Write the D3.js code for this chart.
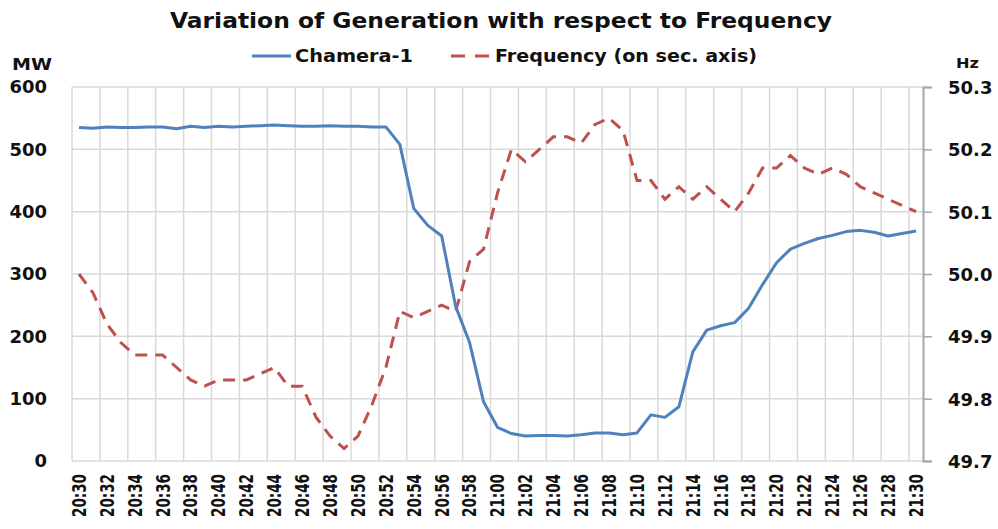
<!DOCTYPE html>
<html>
<head>
<meta charset="utf-8">
<script src="https://cdn.jsdelivr.net/npm/d3@7"></script>
<style>
  body { margin: 0; background: #fff; }
  svg { display: block; font-family: "DejaVu Sans", Verdana, sans-serif; font-weight: bold; }
</style>
</head>
<body>
<svg width="998" height="529"></svg>
<script>
// minutes on the category axis
var times = ["20:30","20:31","20:32","20:33","20:34","20:35","20:36","20:37","20:38","20:39",
  "20:40","20:41","20:42","20:43","20:44","20:45","20:46","20:47","20:48","20:49",
  "20:50","20:51","20:52","20:53","20:54","20:55","20:56","20:57","20:58","20:59",
  "21:00","21:01","21:02","21:03","21:04","21:05","21:06","21:07","21:08","21:09",
  "21:10","21:11","21:12","21:13","21:14","21:15","21:16","21:17","21:18","21:19",
  "21:20","21:21","21:22","21:23","21:24","21:25","21:26","21:27","21:28","21:29","21:30"];
// Chamera-1 generation, MW
var chamera = [535,534,536,535,535,536,536,533,537,535,
  537,536,537,538,539,538,537,537,538,537,
  537,536,536,508,405,378,361,248,190,95,
  54,44,40,41,41,40,42,45,45,42,
  45,74,70,87,175,210,217,222,245,283,
  318,340,349,357,362,368,370,367,361,365,369];
// grid frequency, Hz (secondary axis)
var freq = [50.00,49.97,49.92,49.89,49.87,49.87,49.87,49.85,49.83,49.82,
  49.83,49.83,49.83,49.84,49.85,49.82,49.82,49.77,49.74,49.72,
  49.74,49.79,49.85,49.94,49.93,49.94,49.95,49.94,50.02,50.04,
  50.13,50.20,50.18,50.20,50.22,50.22,50.21,50.24,50.25,50.23,
  50.15,50.15,50.12,50.14,50.12,50.14,50.12,50.10,50.13,50.17,
  50.17,50.19,50.17,50.16,50.17,50.16,50.14,50.13,50.12,50.11,50.10];
var mwTicks = [0,100,200,300,400,500,600];
var hzTicks = [49.7,49.8,49.9,50.0,50.1,50.2,50.3];

var svg = d3.select('svg');
var plotL = 72, plotR = 923, plotT = 87, plotB = 461;

var x = d3.scaleBand().domain(times).range([plotL, plotR]).padding(0);
var cx = function (t) { return x(t) + x.bandwidth() / 2; };
var yL = d3.scaleLinear().domain([0, 600]).range([plotB, plotT]);
var yR = d3.scaleLinear().domain([49.7, 50.3]).range([plotB, plotT]);

var grid = svg.append('g').attr('stroke', '#d9d9d9').attr('stroke-width', 1.5);
// vertical gridlines every 2 minutes, on the category boundaries
grid.selectAll('.vg').data(times.filter(function (d, i) { return i % 2 == 0; }))
  .enter().append('line')
  .attr('x1', function (d) { return x(d); }).attr('x2', function (d) { return x(d); })
  .attr('y1', plotT).attr('y2', plotB);
grid.selectAll('.hg').data(mwTicks).enter().append('line')
  .attr('x1', plotL).attr('x2', plotR)
  .attr('y1', function (d) { return yL(d); }).attr('y2', function (d) { return yL(d); });

// left axis labels
svg.append('g').selectAll('text').data(mwTicks).enter().append('text')
  .attr('x', 47).attr('y', function (d) { return yL(d); }).attr('dy', '0.36em')
  .attr('text-anchor', 'end').attr('font-size', 18).attr('fill', '#111')
  .text(function (d) { return d; });

// right axis
var ax = svg.append('g').attr('transform', 'translate(' + plotR + ',0)')
  .call(d3.axisRight(yR).tickValues(hzTicks).tickSize(9).tickPadding(16).tickFormat(d3.format('.1f')));
ax.select('.domain').attr('stroke', '#a6a6a6').attr('stroke-width', 2);
ax.selectAll('.tick line').attr('stroke', '#a6a6a6').attr('stroke-width', 1.5);
ax.selectAll('.tick text').attr('font-size', 18).attr('fill', '#111').attr('dy', '0.36em');
ax.attr('font-family', null).attr('font-size', null);

// x labels, rotated
svg.append('g').selectAll('text').data(times.filter(function (d, i) { return i % 2 == 0; }))
  .enter().append('text')
  .attr('transform', function (d) { return 'translate(' + cx(d) + ',474) rotate(-90)'; })
  .attr('dy', '0.36em').attr('text-anchor', 'end').attr('font-size', 19)
  .attr('textLength', 43).attr('lengthAdjust', 'spacingAndGlyphs').attr('fill', '#111')
  .text(function (d) { return d; });

// series
var lineMW = d3.line().x(function (d, i) { return cx(times[i]); }).y(function (d) { return yL(d); });
var lineHz = d3.line().x(function (d, i) { return cx(times[i]); }).y(function (d) { return yR(d); });
svg.append('path').datum(freq).attr('d', lineHz).attr('fill', 'none')
  .attr('stroke', '#c0504d').attr('stroke-width', 3).attr('stroke-dasharray', '12,8');
svg.append('path').datum(chamera).attr('d', lineMW).attr('fill', 'none')
  .attr('stroke', '#4f81bd').attr('stroke-width', 3).attr('stroke-linejoin', 'round');

// title and legend
svg.append('text').attr('x', 501).attr('y', 28).attr('text-anchor', 'middle')
  .attr('font-size', 21).attr('textLength', 662).attr('lengthAdjust', 'spacingAndGlyphs')
  .attr('fill', '#111').text('Variation of Generation with respect to Frequency');
svg.append('line').attr('x1', 252).attr('x2', 291).attr('y1', 56).attr('y2', 56)
  .attr('stroke', '#4f81bd').attr('stroke-width', 3);
svg.append('text').attr('x', 295).attr('y', 62).attr('font-size', 18)
  .attr('textLength', 118).attr('lengthAdjust', 'spacingAndGlyphs').attr('fill', '#111').text('Chamera-1');
svg.append('line').attr('x1', 451).attr('x2', 490).attr('y1', 56).attr('y2', 56)
  .attr('stroke', '#c0504d').attr('stroke-width', 3).attr('stroke-dasharray', '14,10');
svg.append('text').attr('x', 495).attr('y', 62).attr('font-size', 18)
  .attr('textLength', 262).attr('lengthAdjust', 'spacingAndGlyphs').attr('fill', '#111').text('Frequency (on sec. axis)');

// axis units
svg.append('text').attr('x', 12).attr('y', 70).attr('font-size', 16)
  .attr('textLength', 40).attr('lengthAdjust', 'spacingAndGlyphs').attr('fill', '#111').text('MW');
svg.append('text').attr('x', 956).attr('y', 68).attr('font-size', 14)
  .attr('textLength', 23).attr('lengthAdjust', 'spacingAndGlyphs').attr('fill', '#111').text('Hz');
</script>
</body>
</html>
